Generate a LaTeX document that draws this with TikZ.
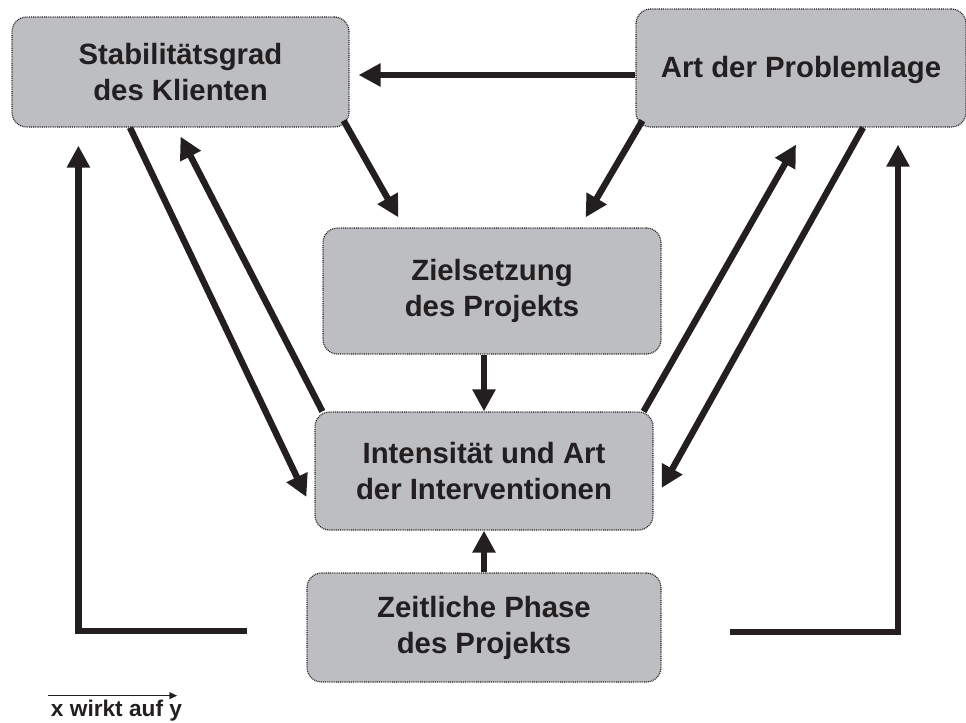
\documentclass[tikz,border=0pt]{standalone}
\usepackage{fontspec}
\setmainfont{Liberation Sans}
\usetikzlibrary{arrows.meta,calc}
\definecolor{boxgray}{RGB}{189,190,193}
\definecolor{ink}{RGB}{35,31,32}
\begin{document}
\begin{tikzpicture}[x=7.5pt,y=7.5pt]
        \tikzstyle{every node}+=[inner sep=0pt]
        \tikzstyle{faktor}=[draw=ink, dash pattern=on 0.7pt off 0.7pt, line width=0.9pt, fill=boxgray, rounded corners=11pt, align=center, text=ink, font=\bfseries\fontsize{22}{27}\selectfont]
        \tikzstyle{wirkt}=[draw=ink, line width=4.8pt, -{Triangle[length=16.5pt,width=16.5pt]}]
        \useasboundingbox (0,0) rectangle (96.6,-72.2);
        \node [faktor, minimum width=252.75pt, minimum height=82.5pt] (stab) at (18.05,-7.2) {Stabilitätsgrad\\des Klienten};
        \node [faktor, minimum width=247.5pt, minimum height=88.5pt, text depth=2pt] (art) at (80.1,-6.8) {Art der Problemlage};
        \node [faktor, minimum width=253.5pt, minimum height=94.5pt] (ziel) at (49.2,-29.1) {Zielsetzung\\des Projekts};
        \node [faktor, minimum width=253.5pt, minimum height=88.5pt] (intens) at (48.4,-47.1) {Intensität und Art\\der Interventionen};
        \node [faktor, minimum width=265.5pt, minimum height=81.75pt] (zeit) at (48.4,-62.75) {Zeitliche Phase\\des Projekts};
        \draw [wirkt] ($(art.west)+(0,-0.7)$) -- ($(stab.east)+(0.9,-0.3)$);
        \draw [wirkt] ($(stab.south east)+(-0.6,0.7)$) -- ($(ziel.north west)+(7.6,1.0)$);
        \draw [wirkt] ($(art.south west)+(0.7,0.7)$) -- ($(ziel.north east)+(-7.6,1.0)$);
        \draw [wirkt] (ziel.south -| intens.north) -- (intens.north);
        \draw [wirkt] (zeit.north) -- (intens.south);
        \draw [wirkt] ($(stab.south)+(-5.05,0)$) -- ($(intens.west)+(-0.8,-2.6)$);
        \draw [wirkt] ($(intens.north west)+(0.8,0)$) -- ($(stab.south)+(0,-0.9)$);
        \draw [wirkt] ($(intens.north east)+(-1.0,0)$) -- ($(art.south)+(-0.5,-1.7)$);
        \draw [wirkt] ($(art.south)+(6.2,0)$) -- ($(intens.east)+(0.8,-1.7)$);
        \draw [wirkt] ($(zeit.west)+(-5.9,-0.35)$) -| ($(stab.south west)+(6.7,-1.8)$);
        \draw [wirkt] ($(zeit.east)+(6.8,-0.45)$) -| ($(art.south)+(9.7,-1.7)$);
        \node [text=ink, font=\bfseries\fontsize{17}{20}\selectfont] (legende) at (11.65,-71.1) {x wirkt auf y};
        \draw [draw=ink, line width=1.1pt, -{Triangle[length=6pt,width=5pt]}] ($(legende.north west)+(-0.3,0.45)$) -- ($(legende.north east)+(-0.5,0.45)$);
\end{tikzpicture}
\end{document}
